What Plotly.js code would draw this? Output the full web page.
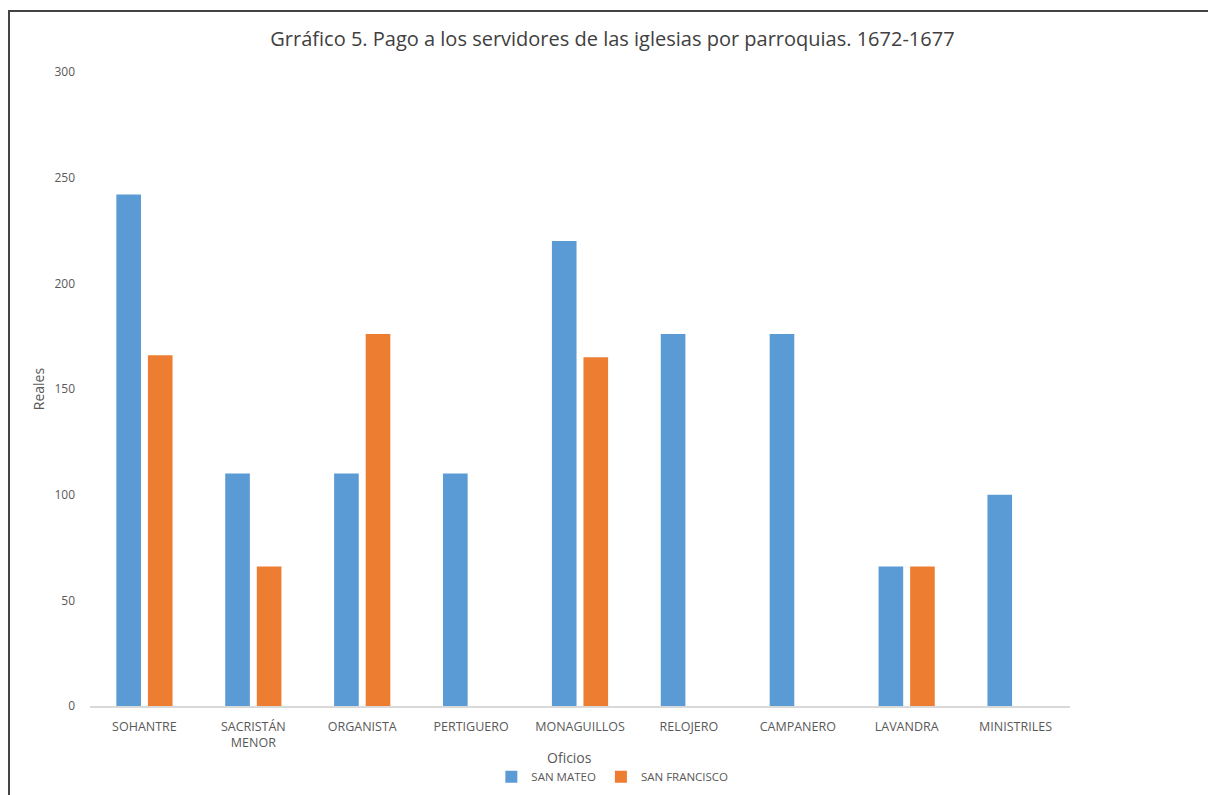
<!DOCTYPE html>
<html>
<head>
<meta charset="utf-8">
<script src="https://cdn.plot.ly/plotly-3.0.1.min.js"></script>
<style>
  html, body { margin: 0; padding: 0; background: #fff; overflow: hidden; }
  #frame { position: absolute; left: 8px; top: 10px; width: 1300px; height: 900px;
           border-left: 2px solid #444; border-top: 2px solid #444; box-sizing: border-box; pointer-events: none; z-index: 5; }
  #chart { position: absolute; left: 0; top: 0; width: 1208px; height: 795px; }
</style>
</head>
<body>
<div id="chart"></div>
<div id="frame"></div>
<script>
const categories = ["SOHANTRE", "SACRISTÁN<br>MENOR", "ORGANISTA", "PERTIGUERO", "MONAGUILLOS", "RELOJERO", "CAMPANERO", "LAVANDRA", "MINISTRILES"];
const sanMateo = [242, 110, 110, 110, 220, 176, 176, 66, 100];
const sanFrancisco = [166, 66, 176, null, 165, null, null, 66, null];
const yTicks = [0, 50, 100, 150, 200, 250, 300];
const xTitle = "Oficios";

const font = "Open Sans, Noto Sans, sans-serif";
const traces = [
  { type: "bar", name: "SAN MATEO", x: categories, y: sanMateo, marker: { color: "#5b9bd5" } },
  { type: "bar", name: "SAN FRANCISCO", x: categories, y: sanFrancisco, marker: { color: "#ed7d31" } }
];
const layout = {
  width: 1208, height: 795,
  margin: { l: 90, r: 138, t: 72, b: 89 },
  paper_bgcolor: "#fff", plot_bgcolor: "#fff",
  barmode: "group", bargap: 0.42, bargroupgap: 0.22,
  font: { family: font, color: "#595959", size: 12 },
  title: { text: "Grráfico 5. Pago a los servidores de las iglesias por parroquias. 1672-1677",
           font: { family: font, size: 20, color: "#404040" }, x: 0.507, xanchor: "center", y: 0.951, yanchor: "middle" },
  xaxis: {
    type: "category", showgrid: false, zeroline: false, automargin: false,
    showline: true, linecolor: "#d9d9d9", linewidth: 1.5,
    ticks: "", tickfont: { size: 12.5, color: "#595959" }, ticklabelstandoff: 8
  },
  yaxis: {
    range: [0, 300], tickvals: yTicks, showgrid: false, zeroline: false, showline: false, automargin: false,
    ticks: "", tickfont: { size: 12, color: "#595959" }, ticklabelstandoff: 14,
    title: { text: "Reales", font: { size: 14, color: "#595959" }, standoff: 6 }
  },
  annotations: [{
    text: xTitle, xref: "paper", yref: "paper", x: 0.489, y: -0.081, xanchor: "center", yanchor: "middle",
    showarrow: false, font: { size: 14, color: "#595959" }
  }],
  legend: { orientation: "h", x: 0.533, xanchor: "center", yref: "container", y: 0.023, yanchor: "middle",
            font: { size: 11.5, color: "#595959" }, itemwidth: 30, traceorder: "normal" },
  showlegend: true
};
Plotly.newPlot("chart", traces, layout, { displayModeBar: false, staticPlot: true });
</script>
</body>
</html>
